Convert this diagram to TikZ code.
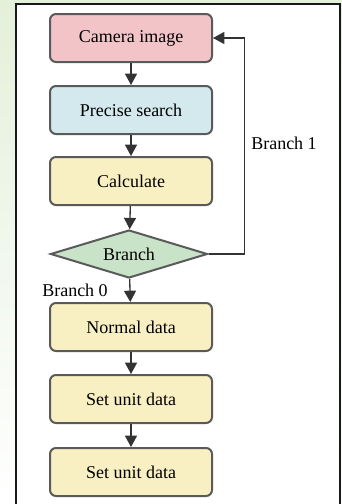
\documentclass[tikz,border=0pt]{standalone}
\usepackage{fontspec}
\setmainfont{Liberation Serif}
\usetikzlibrary{shapes.geometric,arrows.meta}
\definecolor{pinkc}{HTML}{F2C4C8}
\definecolor{bluec}{HTML}{D3E9EE}
\definecolor{yelc}{HTML}{F8F0C2}
\definecolor{grnc}{HTML}{C8E3C8}
\definecolor{edgec}{HTML}{5A5A5A}
\definecolor{bggreen}{HTML}{E3F0DA}
\tikzset{
  box/.style={draw=edgec, line width=1.5pt, rounded corners=4.5pt, minimum width=121.5pt, minimum height=36pt, inner sep=0pt, font=\fontsize{13.5}{15}\selectfont},
  dec/.style={draw=edgec, line width=1.5pt, diamond, aspect=3.2, minimum width=117.75pt, minimum height=36pt, inner sep=0pt, font=\fontsize{13.5}{15}\selectfont},
  arr/.style={draw=black!80, line width=1pt, -{Triangle[width=9pt,length=8.5pt]}},
  lbl/.style={font=\fontsize{13.5}{15}\selectfont, inner sep=0pt}
}
\begin{document}
\begin{tikzpicture}[x=0.75pt,y=-0.75pt]
\useasboundingbox (0,0) rectangle (342,504);
\shade[top color=bggreen, bottom color=white] (0,0) rectangle (342,504);
\fill[white] (16,4) rectangle (340,520);
\draw[black!90, line width=1.6pt] (16,520) -- (16,4) -- (340,4) -- (340,520);
\node[box, fill=pinkc] (cam) at (131,38) {Camera image};
\node[box, fill=bluec] (ps) at (131,110) {Precise search};
\node[box, fill=yelc] (calc) at (131,181) {Calculate};
\node[dec, fill=grnc] (br) at (129,254) {Branch};
\node[box, fill=yelc] (nd) at (131,327) {Normal data};
\node[box, fill=yelc] (su1) at (131,399) {Set unit data};
\node[box, fill=yelc] (su2) at (131,472) {Set unit data};
\draw[arr] (cam) -- (ps);
\draw[arr] (ps) -- (calc);
\draw[arr] (calc) -- (br);
\draw[arr] (br) -- (nd);
\draw[arr] (nd) -- (su1);
\draw[arr] (su1) -- (su2);
\draw[arr] (br.east) -- ++(36,0) |- (cam.east);
\node[lbl] (b1) at (284,143) {Branch 1};
\node[lbl] (b0) at (75,290) {Branch 0};
\end{tikzpicture}
\end{document}
